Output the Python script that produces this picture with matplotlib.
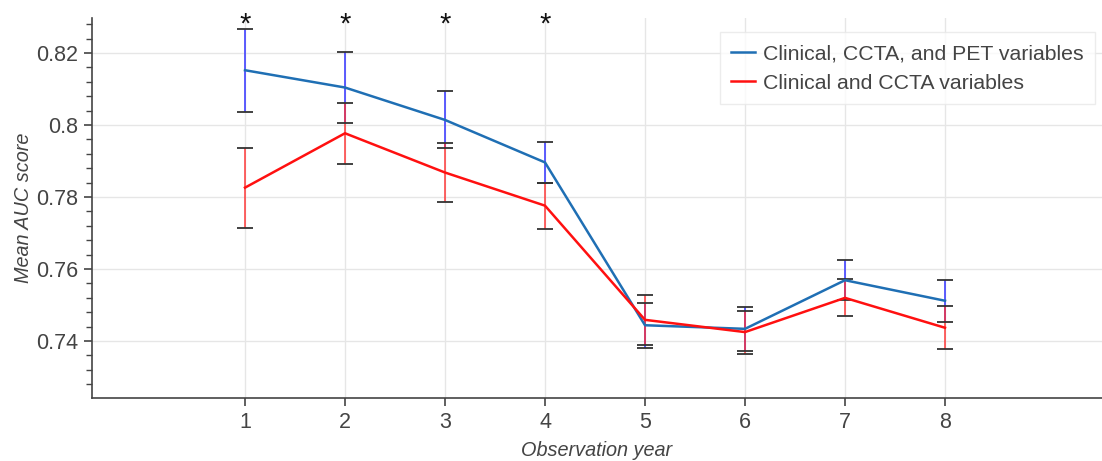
import matplotlib.pyplot as plt
from matplotlib.ticker import MultipleLocator

years = [1, 2, 3, 4, 5, 6, 7, 8]

# Clinical, CCTA, and PET variables
pet_mean = [0.8152, 0.8104, 0.8014, 0.7896, 0.7444, 0.7434, 0.7569, 0.7512]
pet_low = [0.8037, 0.8006, 0.7935, 0.7838, 0.7380, 0.7372, 0.7513, 0.7454]
pet_high = [0.8266, 0.8202, 0.8093, 0.7954, 0.7507, 0.7495, 0.7625, 0.7569]

# Clinical and CCTA variables
ccta_mean = [0.7826, 0.7977, 0.7868, 0.7776, 0.7459, 0.7425, 0.7520, 0.7437]
ccta_low = [0.7715, 0.7892, 0.7787, 0.7712, 0.7389, 0.7365, 0.7469, 0.7378]
ccta_high = [0.7936, 0.8062, 0.7949, 0.7840, 0.7528, 0.7483, 0.7572, 0.7497]

significant_years = [1, 2, 3, 4]

plt.rcParams["font.family"] = ["Liberation Sans", "DejaVu Sans"]

fig = plt.figure(figsize=(11.02, 4.61), dpi=100)
ax = fig.add_axes([92 / 1102, 63 / 461, 1010 / 1102, 380 / 461])

ax.set_xlim(-0.53, 9.57)
ax.set_ylim(0.7242, 0.8297)

for s in ["top", "right"]:
    ax.spines[s].set_visible(False)
for s in ["left", "bottom"]:
    ax.spines[s].set_color("#444444")
    ax.spines[s].set_linewidth(1.2)

ax.grid(True, color="#e6e6e6", linewidth=1)
ax.set_axisbelow(True)

# error bars
ax.vlines(years, pet_low, pet_high, color="#4040ff", linewidth=1.4, alpha=0.85, zorder=2)
ax.vlines(years, ccta_low, ccta_high, color="#ff3030", linewidth=1.4, alpha=0.75, zorder=2)
for lo, hi in [(pet_low, pet_high), (ccta_low, ccta_high)]:
    ax.plot(years, lo, linestyle="none", marker="_", markersize=11,
            markeredgewidth=1.3, color="#333333", zorder=3)
    ax.plot(years, hi, linestyle="none", marker="_", markersize=11,
            markeredgewidth=1.3, color="#333333", zorder=3)

ax.plot(years, pet_mean, color="#1f6fb4", linewidth=1.8,
        label="Clinical, CCTA, and PET variables", zorder=4)
ax.plot(years, ccta_mean, color="#ff1010", linewidth=1.8,
        label="Clinical and CCTA variables", zorder=4)

for yr in significant_years:
    ax.text(yr, 0.8279, "*", ha="center", va="center", fontsize=21,
            color="#111111", clip_on=False, zorder=5)

ax.set_xticks(years)
ax.yaxis.set_major_locator(MultipleLocator(0.02))
ax.yaxis.set_minor_locator(MultipleLocator(0.004))
ax.set_yticks([0.74, 0.76, 0.78, 0.80, 0.82])
ax.set_yticklabels(["0.74", "0.76", "0.78", "0.8", "0.82"])

ax.tick_params(axis="both", which="major", direction="out", length=6, width=1.2,
               color="#444444", labelsize=15.5, labelcolor="#444444", pad=4)
ax.tick_params(axis="y", which="minor", direction="out", length=4, width=1,
               color="#444444")

ax.set_xlabel("Observation year", fontsize=14.3, fontstyle="italic",
              color="#444444", labelpad=6)
ax.set_ylabel("Mean AUC score", fontsize=14.3, fontstyle="italic",
              color="#444444", labelpad=2)

leg = ax.legend(loc="upper right", bbox_to_anchor=(1.004, 0.99), fontsize=15.3,
                frameon=True, fancybox=False, handlelength=1.1, handletextpad=0.4,
                borderpad=0.55, labelspacing=0.5)
leg.get_frame().set_edgecolor("#e8e8e8")
leg.get_frame().set_linewidth(1)
for t in leg.get_texts():
    t.set_color("#444444")

fig.savefig("out.png", dpi=100)
